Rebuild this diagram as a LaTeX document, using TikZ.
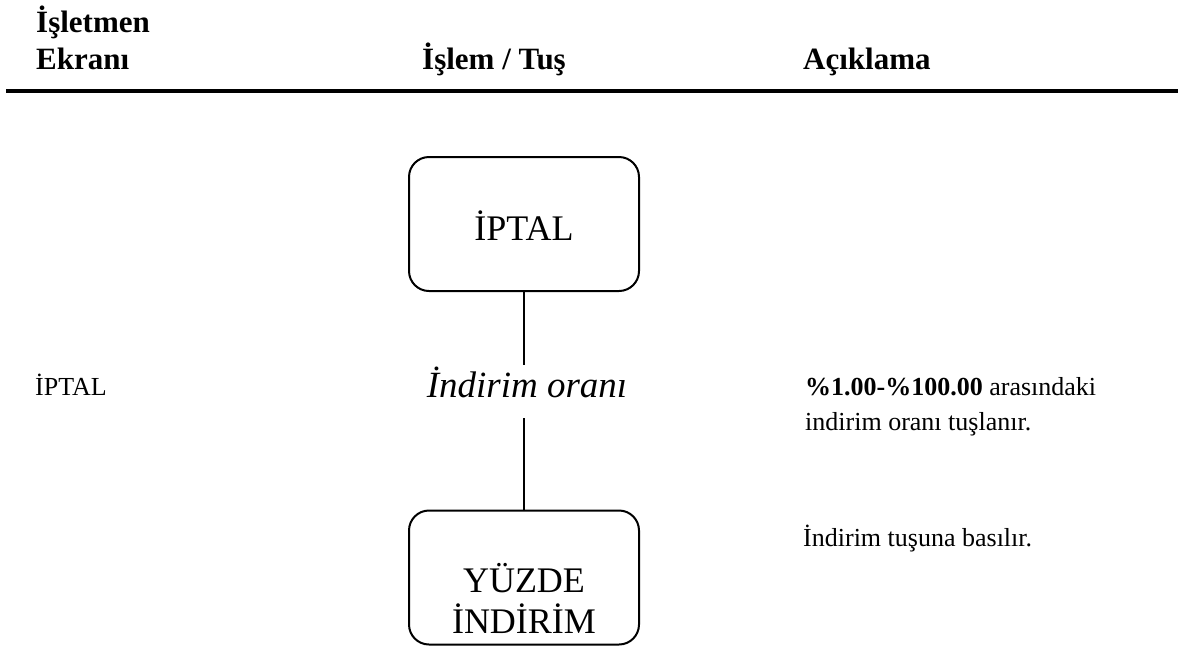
\documentclass[tikz,border=0pt]{standalone}
\usepackage{fontspec}
\setmainfont{Liberation Serif}
\usetikzlibrary{positioning}

\begin{document}
\begin{tikzpicture}[x=1pt,y=-1pt,
  head/.style={anchor=base west,inner sep=0pt,font=\fontsize{31}{38}\selectfont\bfseries},
  plain/.style={anchor=base west,inner sep=0pt,font=\fontsize{26}{35}\selectfont},
  keybox/.style={draw,line width=2pt,rounded corners=20pt,minimum width=230pt,minimum height=134pt},
  keytext/.style={anchor=base,inner sep=0pt,align=center,font=\fontsize{36}{41}\selectfont},
  link/.style={line width=2pt}]
 \useasboundingbox (0,0) rectangle (1178,649);

 \node[head,  name=operator] at (36,32)  {İşletmen};
 \node[head,  name=screen]   at (36,69)  {Ekranı};
 \node[head,  name=action]   at (422,69) {İşlem / Tuş};
 \node[head,  name=note]     at (803,69) {Açıklama};

 \coordinate (rule west) at (6,91);
 \coordinate (rule east) at (1178,91);
 \draw[line width=4pt] (rule west) -- (rule east);

 \node[keybox, name=iptal]     at (524,224)   {};
 \node[keytext,name=iptal-txt] at (524,240)   {İPTAL};
 \node[anchor=base,inner sep=0pt,text height=32pt,text depth=21pt,
       font=\fontsize{37}{42}\selectfont\itshape, name=oran] at (527,397) {İndirim oranı};
 \node[keybox, name=yuzde]     at (524,577.5) {};
 \node[keytext,name=yuzde-txt] at (524,633)   {YÜZDE\\İNDİRİM};

 \draw[link] (iptal.south) -- (iptal.south |- oran.north);
 \draw[link] (yuzde.north |- oran.south) -- (yuzde.north);

 \node[plain, name=screen-iptal] at (35,395)  {İPTAL};
 \node[plain, align=left, name=oran-note] at (805,430)
   {\textbf{\%1.00-\%100.00} arasındaki\\indirim oranı tuşlanır.};
 \node[plain, name=yuzde-note] at (803,546) {İndirim tuşuna basılır.};
\end{tikzpicture}
\end{document}
